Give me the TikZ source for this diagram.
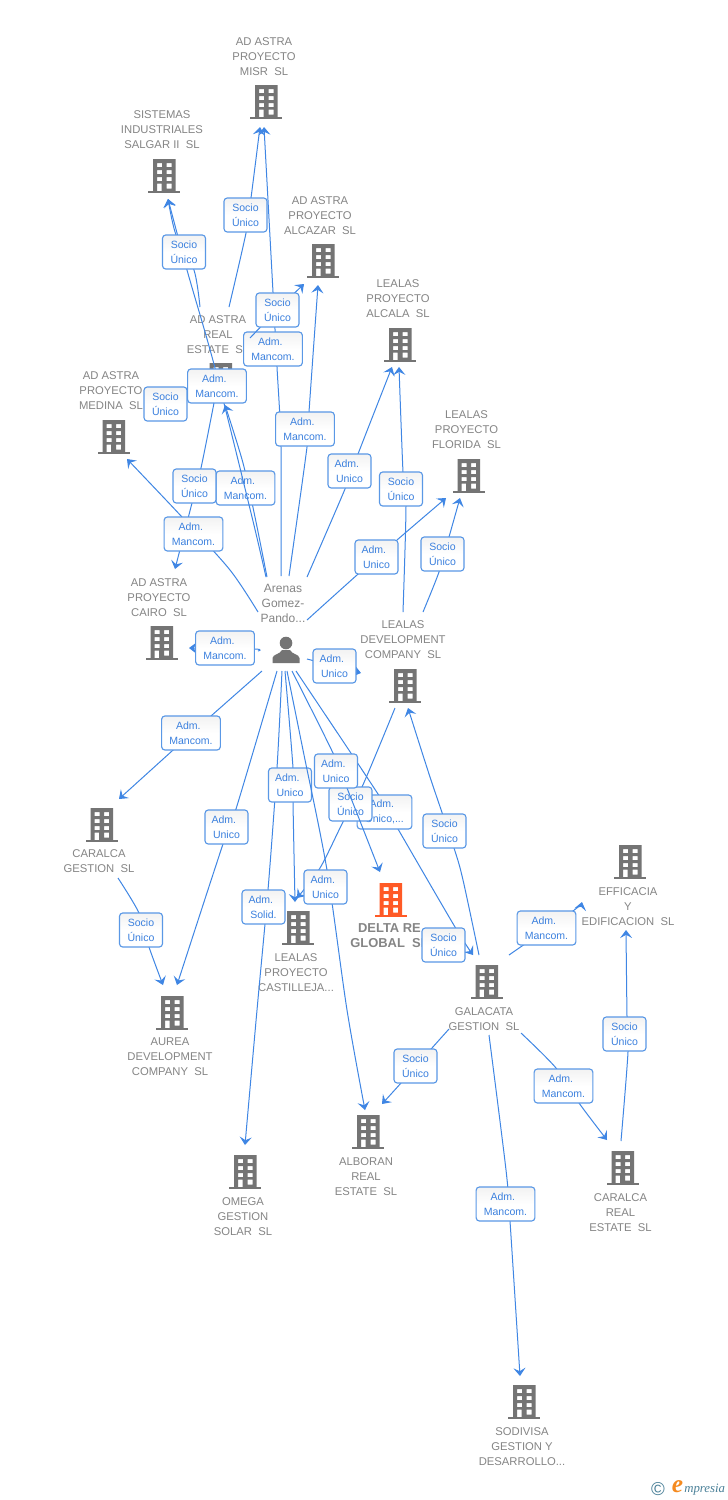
\documentclass[tikz,border=0pt]{standalone}
\usepackage{fontspec}
\setmainfont{Liberation Sans}
\newfontfamily\logofont{Liberation Serif}
\usetikzlibrary{arrows.meta}
\definecolor{edgeblue}{HTML}{3F86E4}
\definecolor{boxblue}{HTML}{5A98E6}
\definecolor{labblue}{HTML}{3B80DE}
\definecolor{namegrey}{HTML}{858585}
\definecolor{iconGrey}{HTML}{747474}
\definecolor{iconOrange}{HTML}{FF5A26}
\definecolor{logoTeal}{HTML}{4A8098}
\definecolor{logoOrange}{HTML}{F58A1F}
\tikzset{
  conn/.style={draw=edgeblue,line width=.75pt,line join=round,-{Stealth[length=6pt,width=9pt,inset=2.4pt]}},
  lab/.style={draw=boxblue,line width=.85pt,rounded corners=2.4pt,top color=black!5,bottom color=white,middle color=white,
     text=labblue,font=\fontsize{7.9pt}{11.25pt}\selectfont,align=center,inner sep=0pt,minimum height=25.5pt},
  sbox/.style={lab,minimum width=32.2pt},
  wbox/.style={lab,minimum width=44pt},
  ebox/.style={lab,minimum width=41pt},
  ent/.style={text=namegrey,font=\fontsize{8.45pt}{11.25pt}\selectfont,align=center,inner sep=0pt,yshift=-.75pt},
  entb/.style={text=namegrey,font=\bfseries\fontsize{9.7pt}{11.25pt}\selectfont,align=center,inner sep=0pt,yshift=-.75pt},
  ico/.style={inner sep=0pt,minimum width=23.5pt,minimum height=25pt},
}
% building icon: name, centre x, base y, colour
\newcommand\bld[4]{%
  \node[ico] (#1) at (#2,#3-17) {};
  \begin{scope}[shift={(#2,#3)}]
    \fill[#4,even odd rule] (-11,-33) rectangle (11.5,-1)
      (-7,-29) rectangle (-2,-25) (2.5,-29) rectangle (7.5,-25)
      (-7,-22) rectangle (-2,-18) (2.5,-22) rectangle (7.5,-18)
      (-7,-15) rectangle (-2,-11) (2.5,-15) rectangle (7.5,-11)
      (-7,-8.5) rectangle (-2.5,-1) (2.5,-8.5) rectangle (7.5,-3.5);
    \fill[#4] (-16,-1.2) rectangle (16,.6);
  \end{scope}}
% connector with its label: [box style] id, start, way points, end, label position, label text
\newcommand\lnk[7][sbox]{%
  \coordinate (#2-s) at #3;
  \coordinate (#2-t) at #5;
  \draw[conn] plot[smooth,tension=.5] coordinates {(#2-s) #4 (#2-t)};
  \node[#1] (#2) at #6 {#7};}
\def\SU{Socio\\Único}
\def\AM{Adm.\kern.5em\\Mancom.}
\def\AU{Adm.\kern.5em\\Unico}
\begin{document}
\begin{tikzpicture}[x=.75pt,y=-.75pt]
\useasboundingbox (0,0) rectangle (728,1500);
\fill[white] (0,0) rectangle (728,1500);
% companies
\bld{misr}{266}{118}{iconGrey}
\node[ent] (misr-n) at (264,56) {AD ASTRA\\PROYECTO\\MISR~~SL};
\bld{sistemas}{164}{192}{iconGrey}
\node[ent] (sistemas-n) at (162,129) {SISTEMAS\\INDUSTRIALES\\SALGAR II~~SL};
\bld{alcazar}{323}{277}{iconGrey}
\node[ent] (alcazar-n) at (320,215) {AD ASTRA\\PROYECTO\\ALCAZAR~~SL};
\bld{alcala}{400}{361}{iconGrey}
\node[ent] (alcala-n) at (398,298) {LEALAS\\PROYECTO\\ALCALA~~SL};
\bld{florida}{468.5}{492}{iconGrey}
\node[ent] (florida-n) at (466.5,429) {LEALAS\\PROYECTO\\FLORIDA~~SL};
\bld{realestate}{220.5}{396}{iconGrey}
\node[ent] (realestate-n) at (218,334) {AD ASTRA\\REAL\\ESTATE~~SL};
\bld{medina}{113.5}{453}{iconGrey}
\node[ent] (medina-n) at (111,390) {AD ASTRA\\PROYECTO\\MEDINA~~SL};
\bld{cairo}{161.5}{659}{iconGrey}
\node[ent] (cairo-n) at (159,597) {AD ASTRA\\PROYECTO\\CAIRO~~SL};
\bld{dev}{405}{702}{iconGrey}
\node[ent] (dev-n) at (403,639) {LEALAS\\DEVELOPMENT\\COMPANY~~SL};
\bld{caralca}{101.5}{841}{iconGrey}
\node[ent] (caralca-n) at (99,860.5) {CARALCA\\GESTION~~SL};
\bld{aurea}{172}{1029}{iconGrey}
\node[ent] (aurea-n) at (170,1056) {AUREA\\DEVELOPMENT\\COMPANY~~SL};
\bld{castilleja}{298}{944}{iconGrey}
\node[ent] (castilleja-n) at (296,972) {LEALAS\\PROYECTO\\CASTILLEJA...};
\bld{delta}{390.5}{916}{iconOrange}
\node[entb] (delta-n) at (389.5,935) {DELTA RE\\GLOBAL~~SL};
\bld{galacata}{486.5}{998}{iconGrey}
\node[ent] (galacata-n) at (484,1018) {GALACATA\\GESTION~~SL};
\bld{efficacia}{630}{878}{iconGrey}
\node[ent] (efficacia-n) at (628,906) {EFFICACIA\\Y\\EDIFICACION~~SL};
\bld{omega}{245}{1188}{iconGrey}
\node[ent] (omega-n) at (243,1216) {OMEGA\\GESTION\\SOLAR~~SL};
\bld{alboran}{368}{1148}{iconGrey}
\node[ent] (alboran-n) at (366,1176) {ALBORAN\\REAL\\ESTATE~~SL};
\bld{caralcare}{622.5}{1184}{iconGrey}
\node[ent] (caralcare-n) at (620.5,1212) {CARALCA\\REAL\\ESTATE~~SL};
\bld{sodivisa}{524}{1418}{iconGrey}
\node[ent] (sodivisa-n) at (522,1446) {SODIVISA\\GESTION Y\\DESARROLLO...};
% person
\node[ico] (arenas) at (286,652) {};
\fill[iconGrey] (286,643) circle [radius=6.3];
\fill[iconGrey] (272.5,663) -- (272.5,658) .. controls (273,654) and (280,654.5) .. (282,650) -- (290,650) .. controls (292,654.5) and (299,654) .. (299.5,658) -- (299.5,663) -- cycle;
\node[ent,font=\fontsize{9pt}{11.25pt}\selectfont] (arenas-n) at (283,602) {Arenas\\Gomez-\\Pando...};
% connectors and their labels, in drawing order
\lnk[wbox]{e1}{(281,576)}{(281,447) (277,367) (273,292)}{(264,127)}{(273,349)}{\AM}
\lnk{e2}{(229,307)}{(246,233) (251,198)}{(260,127)}{(245.5,215)}{\SU}
\lnk{e3}{(250,338)}{(277,310)}{(304,284)}{(277.5,310)}{\SU}
\lnk[wbox]{e4}{(289,576)}{(307,447) (309,412)}{(318,285)}{(305,429)}{\AM}
\lnk{e5}{(307,577)}{(345,489) (358,454)}{(392,367)}{(349.5,471)}{\AU}
\lnk{e6}{(403,612)}{(406,506) (403,472)}{(399,367)}{(401,489)}{\SU}
\lnk{e7}{(307,620)}{(357,575) (397,540)}{(446,498)}{(376.5,557)}{\AU}
\lnk{e8}{(423,612)}{(439,572) (449,537)}{(460,498)}{(442.5,554)}{\SU}
\lnk[wbox]{e9}{(267,577)}{(255,517) (243,463)}{(225,405)}{(245.5,488)}{\AM}
\lnk[wbox]{e10}{(266,577)}{(252,517) (215,368) (187,270)}{(168,199)}{(217,386)}{\AM}
\lnk{e11}{(200,307)}{(194,270) (176,235)}{(168,199)}{(184,252)}{\SU}
\node[sbox] (e12) at (165.5,404) {\SU};
\lnk{e13}{(214,403)}{(201,468) (192,503)}{(175,569)}{(194.5,486)}{\SU}
\lnk[wbox]{e14}{(258,612)}{(230,570) (182,517)}{(127,459)}{(193.5,534)}{\AM}
\lnk[wbox]{e15}{(258,651)}{(255,649)}{(189,648)}{(225,648)}{\AM}
\lnk{e16}{(307,659)}{(334,666)}{(361,673)}{(334.5,666)}{\AU}
\lnk[wbox]{e17}{(262,671)}{(211,716) (172,751)}{(119,799)}{(191,733)}{\AM}
\lnk{e18}{(277,671)}{(236,809) (223,844)}{(177,985)}{(226.5,827)}{\AU}
\lnk{e19}{(118,878)}{(139,913) (149,947)}{(163,985)}{(141,930)}{\SU}
\lnk{e20}{(282,671)}{(277,768) (268,890) (257,1010)}{(245,1145)}{(263.5,907)}{Adm.\kern.5em\\Solid.}
\lnk{e21}{(285,671)}{(293,768) (293,802)}{(295,902)}{(290,785)}{\AU}
\lnk[ebox]{e23}{(296,671)}{(378,794) (398,829) (455,927)}{(473,955)}{(384.5,812)}{Adm.\kern.5em\\Unico,...}
\lnk{e24}{(395,708)}{(362,787) (343,822) (320,868)}{(297,898)}{(350.5,804)}{\SU}
\lnk{e22}{(287,671)}{(303,750) (327,870) (347,1010)}{(365,1110)}{(325.5,887)}{\AU}
\lnk{e25}{(292,671)}{(333,753) (347,788)}{(380,872)}{(336,771)}{\AU}
\node[sbox] (e27) at (443.5,945) {\SU};
\lnk{e26}{(479,955)}{(463,880) (454,848) (430,777)}{(408,708)}{(444.5,831)}{\SU}
\lnk[wbox]{e28}{(509,955)}{(522,946) (573,911)}{(582,902)}{(546.5,928)}{\AM}
\lnk[wbox]{e29}{(521,1033)}{(556,1068) (579,1103)}{(607,1140)}{(563.5,1086)}{\AM}
\lnk{e30}{(621,1141)}{(628,1052) (627,1016)}{(626,930)}{(624.5,1034)}{\SU}
\lnk{e31}{(449,1029)}{(432,1048) (401,1083)}{(382,1104)}{(415.5,1066)}{\SU}
\lnk[wbox]{e32}{(489,1035)}{(506,1170) (510,1221)}{(520,1376)}{(505.5,1204)}{\AM}
% logo
\node[inner sep=0pt,text=logoTeal,font=\fontsize{14pt}{14pt}\selectfont] (logo-c) at (658,1489) {©};
\node[inner sep=0pt,text=logoOrange,font=\logofont\itshape\bfseries\fontsize{19pt}{19pt}\selectfont] (logo-e) at (677.5,1487) {e};
\node[inner sep=0pt,anchor=west,text=logoTeal,font=\logofont\itshape\fontsize{9.6pt}{12pt}\selectfont] (logo-m) at (684,1490) {mpresia};
\end{tikzpicture}
\end{document}
